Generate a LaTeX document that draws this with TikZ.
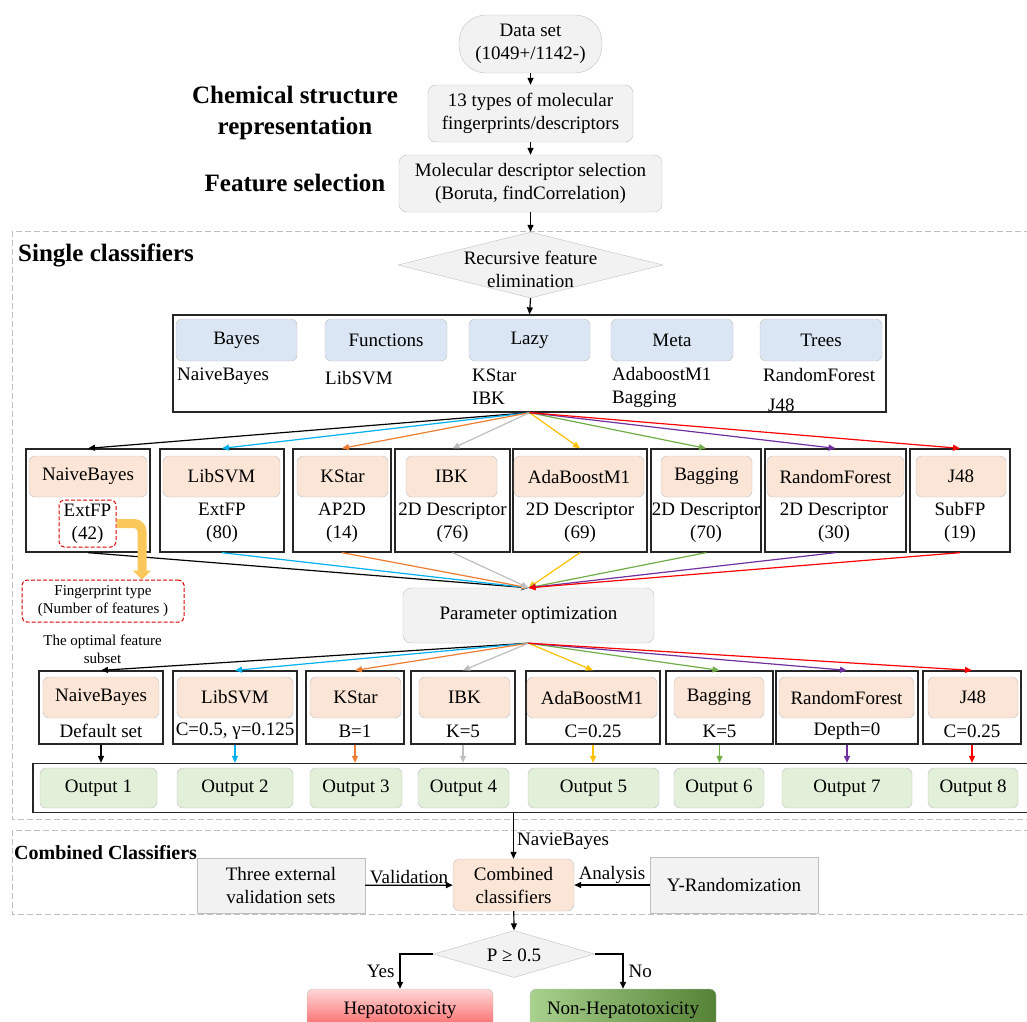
\documentclass[tikz,border=0pt]{standalone}
\usepackage{fontspec}
\setmainfont{Liberation Serif}
\usepackage{tikz}
\usetikzlibrary{positioning}
\usetikzlibrary{arrows.meta,shapes}
\usetikzlibrary{calc}

\definecolor{boxline}{RGB}{191,191,191}
\definecolor{boxgray}{RGB}{242,242,242}
\definecolor{catblue}{RGB}{218,230,243}
\definecolor{clspink}{RGB}{251,229,214}
\definecolor{outgreen}{RGB}{226,240,217}
\definecolor{fancyan}{RGB}{0,176,240}
\definecolor{fanorange}{RGB}{237,125,49}
\definecolor{fangray}{RGB}{191,191,191}
\definecolor{fangold}{RGB}{255,192,0}
\definecolor{fangreen}{RGB}{112,173,71}
\definecolor{fanpurple}{RGB}{112,48,160}
\definecolor{fanred}{RGB}{255,0,0}
\definecolor{fpyellow}{RGB}{250,200,90}
\definecolor{heppink}{RGB}{255,215,215}
\definecolor{hepred}{RGB}{250,95,95}
\definecolor{nhlight}{RGB}{169,209,142}
\definecolor{nhdark}{RGB}{84,130,53}

\newcommand{\fnbody}{\fontsize{19}{23}\selectfont}
\newcommand{\fnhead}{\fontsize{25}{31}\selectfont\bfseries}
\newcommand{\fnsub}{\fontsize{20}{24}\selectfont\bfseries}
\newcommand{\fnnote}{\fontsize{15}{18}\selectfont}

\begin{document}
\begin{tikzpicture}[x=1pt, y=-1pt,
  arr/.style={-{Triangle[length=7pt,width=6pt]}, line width=1.2pt},
  fan/.style={-{Triangle[length=7pt,width=6pt]}, line width=1.2pt},
  graybox/.style={draw=boxline, fill=boxgray, rounded corners=8pt, align=center, font=\fnbody, inner sep=0pt},
  plainbox/.style={draw=boxline, fill=boxgray, align=center, font=\fnbody, inner sep=0pt},
  decision/.style={diamond, draw=boxline, fill=boxgray, inner sep=0pt},
  catbox/.style={draw=boxline, fill=catblue, rounded corners=6pt, font=\fnbody, inner sep=0pt, minimum height=42pt},
  member/.style={font=\fnbody, align=left, anchor=west, inner sep=0pt},
  clsframe/.style={draw=black!85, line width=1.3pt, inner sep=0pt},
  clshead/.style={draw=boxline, fill=clspink, rounded corners=6pt, font=\fnbody, inner sep=0pt, minimum height=41pt},
  clstext/.style={font=\fnbody, align=center, inner sep=0pt},
  outbox/.style={draw=boxline, fill=outgreen, rounded corners=6pt, font=\fnbody, inner sep=0pt, minimum height=40pt},
  stageframe/.style={draw=boxline, dash pattern=on 6pt off 3pt, line width=1pt},
  fpsel/.style={draw=red!85!black, dash pattern=on 4pt off 2pt, line width=1pt, rounded corners=5pt, align=center, inner sep=0pt},
  fparrow/.style={draw=fpyellow, line width=9pt, rounded corners=8pt, -{Triangle[length=9pt,width=18pt]}}]

\useasboundingbox (0,0) rectangle (1027,1021);
\clip (0,0) rectangle (1027,1021);

% top of the flow
\node[graybox, rounded corners=27pt, minimum width=143pt, minimum height=58pt] (data) at (530.5,44) {Data set\\(1049+/1142-)};
\node[graybox, minimum width=205pt, minimum height=57pt] (types) at (530.5,113.5) {13 types of molecular\\fingerprints/descriptors};
\node[graybox, minimum width=263pt, minimum height=57pt] (molsel) at (530.5,183.5) {Molecular descriptor selection\\(Boruta, findCorrelation)};
\node[font=\fnhead, align=center] (chemlbl) at (295,112.5) {Chemical structure\\representation};
\node[font=\fnhead] (fslbl) at (295,183) {Feature selection};
\draw[arr] (data) -- (types);
\draw[arr] (types) -- (molsel);

% single classifiers
\draw[stageframe] (12,231) rectangle (1040,819);
\node[font=\fnhead, anchor=west, inner sep=0pt] (singlelbl) at (18,255) {Single classifiers};
\node[decision, minimum width=265pt, minimum height=66pt] (rfe) at (530.5,265) {};
\node[clstext] (rfetxt) at (530.5,269) {Recursive feature\\elimination};
\draw[arr] (molsel) -- (rfe.north);

\node[clsframe, minimum width=713pt, minimum height=97pt] (cat) at (529.5,363.5) {};
\draw[arr] (rfe.south) -- (cat.north);
\node[catbox, minimum width=121pt] (bayes) at (236.5,340) {Bayes};
\node[catbox, minimum width=122pt] (funcs) at (386,340) {Functions};
\node[catbox, minimum width=121pt] (lazy) at (529.5,340) {Lazy};
\node[catbox, minimum width=122pt] (meta) at (672,340) {Meta};
\node[catbox, minimum width=122pt] (trees) at (821,340) {Trees};
\node[member] (mbayes) at (177,376) {NaiveBayes};
\node[member] (mfuncs) at (325,378) {LibSVM};
\node[member] (mlazy) at (472,387) {KStar\\IBK};
\node[member] (mmeta) at (612,387) {AdaboostM1\\Bagging};
\node[member] (mtrees) at (763,375) {RandomForest};
\node[member] (mj48) at (768,405) {J48};

% selected feature sets
\node[clsframe, minimum width=124pt, minimum height=103pt] (s1) at (88,500.5) {};
\node[clshead, minimum width=118pt] (s1h) at (88,476.5) {NaiveBayes};
\node[fpsel, font=\fnbody, minimum width=57pt, minimum height=47pt] (s1t) at (87.5,523.5) {ExtFP\\(42)};
\node[clsframe, minimum width=124pt, minimum height=103pt] (s2) at (222,500.5) {};
\node[clshead, minimum width=117pt] (s2h) at (221.5,476.5) {LibSVM};
\node[clstext] (s2t) at (222,522.5) {ExtFP\\(80)};
\node[clsframe, minimum width=98pt, minimum height=103pt] (s3) at (342,500.5) {};
\node[clshead, minimum width=91pt] (s3h) at (342.5,476.5) {KStar};
\node[clstext] (s3t) at (342,522.5) {AP2D\\(14)};
\node[clsframe, minimum width=115pt, minimum height=103pt] (s4) at (452.5,500.5) {};
\node[clshead, minimum width=91pt] (s4h) at (451.5,476.5) {IBK};
\node[clstext] (s4t) at (452.5,522.5) {2D Descriptor\\(76)};
\node[clsframe, minimum width=134pt, minimum height=103pt] (s5) at (580,500.5) {};
\node[clshead, minimum width=130pt] (s5h) at (579,476.5) {AdaBoostM1};
\node[clstext] (s5t) at (580,522.5) {2D Descriptor\\(69)};
\node[clsframe, minimum width=110pt, minimum height=103pt] (s6) at (706,500.5) {};
\node[clshead, minimum width=91pt] (s6h) at (706.5,476.5) {Bagging};
\node[clstext] (s6t) at (706,522.5) {2D Descriptor\\(70)};
\node[clsframe, minimum width=141pt, minimum height=103pt] (s7) at (835.5,500.5) {};
\node[clshead, minimum width=137pt] (s7h) at (835.5,476.5) {RandomForest};
\node[clstext] (s7t) at (834,522.5) {2D Descriptor\\(30)};
\node[clsframe, minimum width=100pt, minimum height=103pt] (s8) at (960,500.5) {};
\node[clshead, minimum width=90pt] (s8h) at (961,476.5) {J48};
\node[clstext] (s8t) at (960,522.5) {SubFP\\(19)};

\draw[fan, black] (cat.south) -- (s1.north);
\draw[fan, fancyan] (cat.south) -- (s2.north);
\draw[fan, fanorange] (cat.south) -- (s3.north);
\draw[fan, fangray] (cat.south) -- (s4.north);
\draw[fan, fangold] (cat.south) -- (s5.north);
\draw[fan, fangreen] (cat.south) -- (s6.north);
\draw[fan, fanpurple] (cat.south) -- (s7.north);
\draw[fan, fanred] (cat.south) -- (s8.north);

\node[graybox, minimum width=251pt, minimum height=55pt] (param) at (528.5,615.5) {Parameter optimization};
\draw[fan, black] (s1.south) -- (param.north);
\draw[fan, fancyan] (s2.south) -- (param.north);
\draw[fan, fanorange] (s3.south) -- (param.north);
\draw[fan, fangray] (s4.south) -- (param.north);
\draw[fan, fangold] (s5.south) -- (param.north);
\draw[fan, fangreen] (s6.south) -- (param.north);
\draw[fan, fanpurple] (s7.south) -- (param.north);
\draw[fan, fanred] (s8.south) -- (param.north);

% note on the feature set
\node[fpsel, font=\fnnote, minimum width=162pt, minimum height=42pt] (fpnote) at (103,601) {Fingerprint type\\(Number of features )};
\draw[fparrow] (s1t.east) -| ([xshift=39pt]fpnote.north);
\node[font=\fnnote, align=center] (optlbl) at (102.5,649) {The optimal feature\\subset};

% tuned classifiers
\node[clsframe, minimum width=124pt, minimum height=73pt] (p1) at (101,707.5) {};
\node[clshead, minimum width=116pt] (p1h) at (101,697.5) {NaiveBayes};
\node[clstext] (p1t) at (101,731) {Default set};
\node[clsframe, minimum width=124pt, minimum height=73pt] (p2) at (235,707.5) {};
\node[clshead, minimum width=116pt] (p2h) at (235,697.5) {LibSVM};
\node[clstext] (p2t) at (235,731) {C=0.5, γ=0.125};
\node[clsframe, minimum width=98pt, minimum height=73pt] (p3) at (355,707.5) {};
\node[clshead, minimum width=91pt] (p3h) at (355.5,697.5) {KStar};
\node[clstext] (p3t) at (355,731) {B=1};
\node[clsframe, minimum width=104pt, minimum height=73pt] (p4) at (463,707.5) {};
\node[clshead, minimum width=91pt] (p4h) at (464.5,697.5) {IBK};
\node[clstext] (p4t) at (463,731) {K=5};
\node[clsframe, minimum width=134pt, minimum height=73pt] (p5) at (593,707.5) {};
\node[clshead, minimum width=130pt] (p5h) at (592,697.5) {AdaBoostM1};
\node[clstext] (p5t) at (593,731) {C=0.25};
\node[clsframe, minimum width=107pt, minimum height=73pt] (p6) at (719.5,707.5) {};
\node[clshead, minimum width=90pt] (p6h) at (719,697.5) {Bagging};
\node[clstext] (p6t) at (719.5,731) {K=5};
\node[clsframe, minimum width=142pt, minimum height=73pt] (p7) at (847,707.5) {};
\node[clshead, minimum width=135pt] (p7h) at (846.5,697.5) {RandomForest};
\node[clstext] (p7t) at (847,731) {Depth=0};
\node[clsframe, minimum width=98pt, minimum height=73pt] (p8) at (972,707.5) {};
\node[clshead, minimum width=90pt] (p8h) at (973,697.5) {J48};
\node[clstext] (p8t) at (972,731) {C=0.25};

\draw[fan, black] (param.south) -- (p1.north);
\draw[fan, fancyan] (param.south) -- (p2.north);
\draw[fan, fanorange] (param.south) -- (p3.north);
\draw[fan, fangray] (param.south) -- (p4.north);
\draw[fan, fangold] (param.south) -- (p5.north);
\draw[fan, fangreen] (param.south) -- (p6.north);
\draw[fan, fanpurple] (param.south) -- (p7.north);
\draw[fan, fanred] (param.south) -- (p8.north);

% outputs
\node[clsframe, minimum width=1007pt, minimum height=49pt] (outs) at (536.5,788) {};
\node[outbox, minimum width=117pt] (o1) at (98.5,788) {Output 1};
\node[outbox, minimum width=116pt] (o2) at (235,788) {Output 2};
\node[outbox, minimum width=92pt] (o3) at (356,788) {Output 3};
\node[outbox, minimum width=91pt] (o4) at (463.5,788) {Output 4};
\node[outbox, minimum width=131pt] (o5) at (593.5,788) {Output 5};
\node[outbox, minimum width=90pt] (o6) at (719,788) {Output 6};
\node[outbox, minimum width=130pt] (o7) at (847,788) {Output 7};
\node[outbox, minimum width=90pt] (o8) at (973,788) {Output 8};

\draw[fan, black] (p1.south) -- (p1.south |- outs.north);
\draw[fan, fancyan] (p2.south) -- (p2.south |- outs.north);
\draw[fan, fanorange] (p3.south) -- (p3.south |- outs.north);
\draw[fan, fangray] (p4.south) -- (p4.south |- outs.north);
\draw[fan, fangold] (p5.south) -- (p5.south |- outs.north);
\draw[fan, fangreen] (p6.south) -- (p6.south |- outs.north);
\draw[fan, fanpurple] (p7.south) -- (p7.south |- outs.north);
\draw[fan, fanred] (p8.south) -- (p8.south |- outs.north);

% combined classifiers
\draw[stageframe] (12,830) rectangle (1040,914);
\node[font=\fnsub, anchor=west, inner sep=0pt] (comblbl) at (14,853) {Combined Classifiers};
\node[plainbox, minimum width=168pt, minimum height=55pt] (three) at (281,885.5) {Three external\\validation sets};
\node[graybox, fill=clspink, rounded corners=7pt, minimum width=121pt, minimum height=52pt] (comb) at (513.5,885) {Combined\\classifiers};
\node[plainbox, minimum width=168pt, minimum height=56pt] (yrand) at (734,885) {Y-Randomization};
\draw[arr] (outs.south -| comb.north) -- node[right, pos=0.62, font=\fnbody, inner sep=3pt] {NavieBayes} (comb.north);
\draw[arr] (three) -- node[above, font=\fnbody, inner sep=1pt] {Validation} (comb);
\draw[arr] (yrand) -- node[above, font=\fnbody, inner sep=1pt] {Analysis} (comb);

% decision
\node[decision, minimum width=161pt, minimum height=47pt] (pdec) at (514,954) {};
\node[clstext] (pdectxt) at (514,955) {P ≥ 0.5};
\draw[arr] (comb) -- (pdec.north);
\node[draw=boxline, rounded corners=6pt, top color=heppink, bottom color=hepred, minimum width=186pt, minimum height=42pt, font=\fnbody, inner sep=0pt] (hep) at (400,1010) {Hepatotoxicity};
\node[draw=boxline, rounded corners=6pt, left color=nhlight, right color=nhdark, minimum width=186pt, minimum height=42pt, font=\fnbody, inner sep=0pt] (nonhep) at (623,1010) {Non-Hepatotoxicity};
\draw[arr] (pdec.west) -| node[left, pos=0.75, font=\fnbody, inner sep=5pt] {Yes} (hep.north);
\draw[arr] (pdec.east) -| node[right, pos=0.75, font=\fnbody, inner sep=5pt] {No} (nonhep.north);

\end{tikzpicture}
\end{document}
